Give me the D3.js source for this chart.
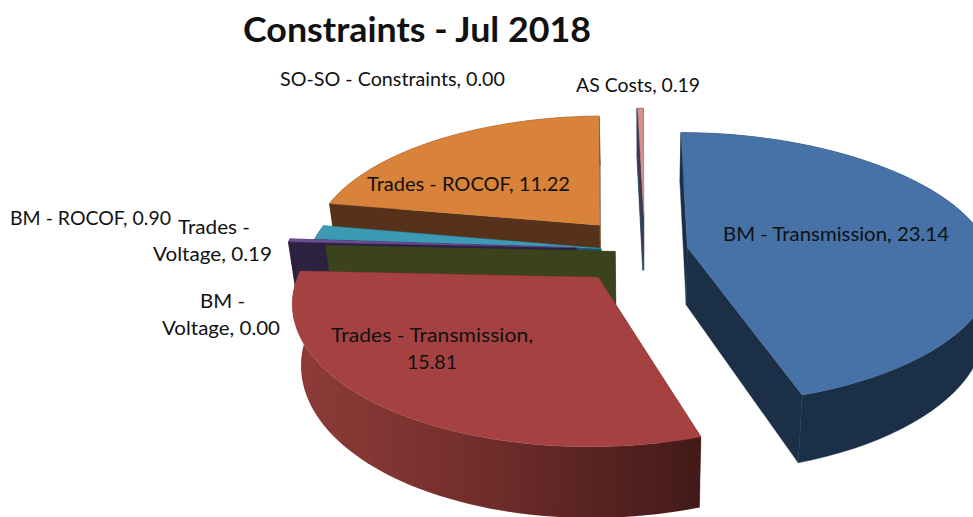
<!DOCTYPE html>
<html><head><meta charset="utf-8">
<script src="https://cdnjs.cloudflare.com/ajax/libs/d3/7.8.5/d3.min.js"></script>
<style>html,body{margin:0;padding:0;background:#fff;overflow:hidden}svg{display:block}
text{font-family:Lato,"Open Sans",sans-serif;fill:#111}</style></head>
<body><svg id="c" width="973" height="517"></svg>
<script>
// data, in the chart's own order (clockwise from 12 o'clock)
const categories = ["BM - Transmission","Trades - Transmission","BM - Voltage","Trades - Voltage","BM - ROCOF","Trades - ROCOF","SO-SO - Constraints","AS Costs"];
const values = [23.14,15.81,0.00,0.19,0.90,11.22,0.00,0.19];
const title = "Constraints - Jul 2018";

// styling, one entry per category
const explode = [0.165,0.23,0.085,0.22,0.135,0.22,0.29,0.29];
const nudgeU = [0,0,0,0,0,0,0.017,0.017];
const nudgeV = [-0.01,0,0,-0.02,-0.01,-0.04,0,0];
const topColors = ["#4672a8","#a54241","#87a04a","#6d4d93","#3c9ab4","#d98239","#7fa8d8","#d98f8e"];
const wallColors = ["#1b2f47","#5c2321","#3a431c","#2c2140","#205465","#56321a","#2c4a6e","#3d3a4c"];
const paintOrder = [6,5,4,3,2,1,7,0];
// label lines: x, baseline, width, text
const labelLines = [
  [[723,240.5,226,"BM - Transmission, 23.14"]],
  [[331,342,202,"Trades - Transmission,"],[407,369,50,"15.81"]],
  [[200,308,45,"BM -"],[162,335,118,"Voltage, 0.00"]],
  [[178,234,72,"Trades -"],[153,261,119,"Voltage, 0.19"]],
  [[10,225,161,"BM - ROCOF, 0.90"]],
  [[367,191,203,"Trades - ROCOF, 11.22"]],
  [[280,86,225,"SO-SO - Constraints, 0.00"]],
  [[576,92,124,"AS Costs, 0.19"]]
];

// projection of the pie plane: u to the right, v toward the viewer
const px=640, py=252, sx=292, sy=134, k=0.157, thick=58, q=0.023, shrink=0.975;
const project = (u,v)=>{
  const w=1/(1-k*v), bow=u>0?1+q*u*u:1;
  return [px+u*sx*w*bow, py+v*sy*w, thick*w];
};
const down = p=>[px+(p[0]-px)*shrink, p[1]+p[2], p[2]];

const svg=d3.select("#c");
const defs=svg.append("defs");
const redGrad=defs.append("linearGradient").attr("id","redWall").attr("gradientUnits","userSpaceOnUse")
  .attr("x1",293).attr("x2",700).attr("y1",0).attr("y2",0);
[[0,"#8d3b38"],[0.3,"#7d3330"],[0.5,"#6e2c2a"],[0.75,"#572321"],[1,"#431a18"]]
  .forEach(s=>redGrad.append("stop").attr("offset",s[0]).attr("stop-color",s[1]));

const arcs=d3.pie().sort(null).value(d=>d).startAngle(0).endAngle(2*Math.PI)(values);
const line=d3.line().x(p=>p[0]).y(p=>p[1]);

paintOrder.forEach(i=>{
  const a=arcs[i], e=explode[i], mid=(a.startAngle+a.endAngle)/2;
  const ou=e*Math.sin(mid)+nudgeU[i], ov=-e*Math.cos(mid)+nudgeV[i];
  const apex=project(ou,ov);
  const angles=d3.range(0,61).map(j=>a.startAngle+(a.endAngle-a.startAngle)*j/60);
  const rim=angles.map(t=>project(ou+Math.sin(t),ov-Math.cos(t)));
  const g=svg.append("g").attr("class","slice");
  const flat=wallColors[i];
  [rim[0],rim[60]].forEach(c=>{
    g.append("path").attr("d",line([apex,c,down(c),down(apex)])+"Z")
     .attr("fill",flat).attr("stroke",flat).attr("stroke-width",0.4);
  });
  if(a.endAngle>a.startAngle){
    const wallPts=rim.concat(rim.slice().reverse().map(down));
    g.append("path").attr("d",line(wallPts)+"Z")
     .attr("fill",i===1?"url(#redWall)":flat).attr("stroke",i===1?"none":flat).attr("stroke-width",0.4);
    g.append("path").attr("d",line([apex].concat(rim))+"Z")
     .attr("fill",topColors[i]).attr("stroke",topColors[i]).attr("stroke-width",0.4);
  }
});

svg.append("text").attr("x",243).attr("y",42).attr("font-size",34).attr("font-weight",700)
   .attr("textLength",348).attr("lengthAdjust","spacingAndGlyphs").text(title);

categories.forEach((c,i)=>{
  labelLines[i].forEach(l=>{
    svg.append("text").attr("x",l[0]).attr("y",l[1]).attr("font-size",18.5)
       .attr("textLength",l[2]).attr("lengthAdjust","spacingAndGlyphs").text(l[3]);
  });
});
</script></body></html>
